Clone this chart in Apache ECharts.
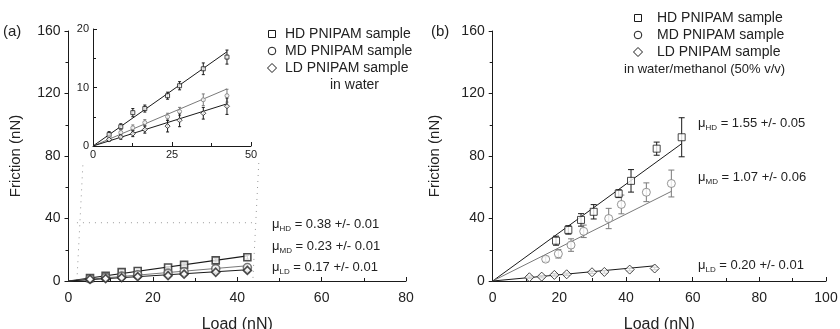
<!DOCTYPE html>
<html>
<head>
<meta charset="utf-8">
<script src="https://cdn.jsdelivr.net/npm/echarts@6/dist/echarts.min.js"></script>
<style>
  html, body { margin: 0; padding: 0; background: #fff; }
  #chart { width: 840px; height: 329px; }
</style>
</head>
<body>
<div id="chart"></div>
<script>
// ---- Panel (a): PNIPAM brushes in water (same data in main plot and inset) ----
const loadA   = [5.1, 8.8, 12.6, 16.4, 23.6, 27.4, 34.9, 42.4];
const hdA     = [1.95, 3.3, 5.7, 6.4, 8.6, 10.3, 13.2, 15.2];
const hdAErr  = [0.5, 0.5, 0.7, 0.6, 0.6, 0.7, 1.0, 1.2];
const mdA     = [1.4, 2.3, 3.1, 4.0, 5.0, 5.9, 7.9, 8.6];
const mdAErr  = [0.4, 0.5, 0.5, 0.5, 0.6, 0.7, 1.0, 1.1];
const ldA     = [1.1, 1.55, 2.1, 2.8, 3.4, 4.4, 5.6, 6.8];
const ldAErr  = [0.3, 0.4, 0.5, 0.6, 1.0, 1.1, 1.0, 1.4];
const slopeA  = [0.38, 0.23, 0.17];
const muTextA = ['0.38 +/- 0.01', '0.23 +/- 0.01', '0.17 +/- 0.01'];

// dotted guide linking the inset to the magnified region (load, friction)
const guideLeft  = [[3.4, 74], [2.0, 0.6]];
const guideRight = [[45.1, 75.5], [43.7, 0.6]];
const guideTop   = [[2.0, 37.3], [43.7, 37.3]];

// ---- Panel (b): in water/methanol (50% v/v) ----
const loadHD  = [19.0, 22.7, 26.5, 30.3, 37.8, 41.5, 49.2, 56.7];
const hdB     = [25.8, 32.7, 39.1, 44.3, 55.9, 64.1, 84.7, 92.0];
const hdBErr  = [2.9, 2.7, 4.0, 4.6, 2.5, 7.2, 4.2, 12.5];
const loadMD  = [15.9, 19.7, 23.5, 27.3, 34.8, 38.6, 46.1, 53.6];
const mdB     = [14.0, 17.4, 23.0, 31.8, 40.0, 49.0, 56.8, 62.4];
const mdBErr  = [1.5, 2.7, 4.0, 4.0, 6.5, 6.0, 6.0, 8.6];
const loadLD  = [11.0, 14.7, 18.5, 22.2, 29.8, 33.5, 41.1, 48.6];
const ldB     = [2.4, 2.8, 3.9, 4.3, 5.6, 5.8, 7.3, 8.0];
const ldBErr  = [0.8, 0.8, 0.8, 0.8, 0.8, 0.8, 0.8, 0.8];
const slopeB  = [1.55, 1.07, 0.20];
const muTextB = ['1.55 +/- 0.05', '1.07 +/- 0.06', '0.20 +/- 0.01'];

const sampleNames = ['HD PNIPAM sample', 'MD PNIPAM sample', 'LD PNIPAM sample'];
const subNames = ['HD', 'MD', 'LD'];

const BLACK = '#1a1a1a';
const GRAY = '#7a7a7a';
const FONT = '"Liberation Sans", Arial, Helvetica, sans-serif';
const colors = [BLACK, GRAY, BLACK];
const symbols = ['rect', 'circle', 'diamond'];

const zip = (xs, ys) => xs.map((x, i) => [x, ys[i]]);
const errData = (xs, ys, es) => xs.map((x, i) => [x, ys[i] - es[i], ys[i] + es[i]]);
const fitLine = (xs, k) => { const m = Math.max(...xs); return [[0, 0], [m, k * m]]; };

function errorBars(gi, data, color, cap) {
  return {
    type: 'custom', xAxisIndex: gi, yAxisIndex: gi, data: data, z: 3,
    renderItem: function (params, api) {
      const lo = api.coord([api.value(0), api.value(1)]);
      const hi = api.coord([api.value(0), api.value(2)]);
      const st = { stroke: color, lineWidth: 1 };
      return {
        type: 'group',
        children: [
          { type: 'line', shape: { x1: lo[0], y1: lo[1], x2: hi[0], y2: hi[1] }, style: st },
          { type: 'line', shape: { x1: lo[0] - cap, y1: lo[1], x2: lo[0] + cap, y2: lo[1] }, style: st },
          { type: 'line', shape: { x1: hi[0] - cap, y1: hi[1], x2: hi[0] + cap, y2: hi[1] }, style: st }
        ]
      };
    }
  };
}
function points(gi, data, sym, color, size, bw) {
  return {
    type: 'scatter', xAxisIndex: gi, yAxisIndex: gi, data: data, z: 4,
    symbol: sym, symbolSize: size,
    itemStyle: { color: '#fff', borderColor: color, borderWidth: bw }
  };
}
function fit(gi, data, color, w) {
  return {
    type: 'line', xAxisIndex: gi, yAxisIndex: gi, data: data, z: 2,
    showSymbol: false, symbol: 'none', silent: true,
    lineStyle: { color: color, width: w }
  };
}
function guide(data) {
  return {
    type: 'line', xAxisIndex: 0, yAxisIndex: 0, data: data, z: 1,
    showSymbol: false, symbol: 'none', silent: true,
    lineStyle: { color: '#9a9a9a', width: 1, type: [1, 5] }
  };
}

function axisX(gi, max, interval, fs, name, margin) {
  return {
    gridIndex: gi, type: 'value', min: 0, max: max, interval: interval,
    axisLine: { lineStyle: { color: BLACK, width: 1 } },
    axisTick: { inside: true, length: 4, lineStyle: { color: BLACK } },
    minorTick: { show: true, splitNumber: 2, length: 3, lineStyle: { color: BLACK } },
    splitLine: { show: false },
    axisLabel: { fontSize: fs, color: '#222', fontFamily: FONT, margin: margin },
    name: name, nameLocation: 'middle', nameGap: 36,
    nameTextStyle: { fontSize: 16, color: '#222', fontFamily: FONT }
  };
}
function axisY(gi, max, interval, fs, name, gap, inside, margin) {
  return {
    gridIndex: gi, type: 'value', min: 0, max: max, interval: interval,
    axisLine: { lineStyle: { color: BLACK, width: 1 } },
    axisTick: { inside: inside, length: 4, lineStyle: { color: BLACK } },
    minorTick: { show: true, splitNumber: 2, length: 3, lineStyle: { color: BLACK } },
    splitLine: { show: false },
    axisLabel: { fontSize: fs, color: '#222', fontFamily: FONT, margin: margin },
    name: name, nameLocation: 'middle', nameGap: gap,
    nameTextStyle: { fontSize: 15, color: '#222', fontFamily: FONT }
  };
}

const series = [
  // panel (a) main
  guide(guideLeft), guide(guideRight), guide(guideTop),
  fit(0, fitLine(loadA, slopeA[0]), colors[0], 1.2),
  fit(0, fitLine(loadA, slopeA[1]), colors[1], 1.2),
  fit(0, fitLine(loadA, slopeA[2]), colors[2], 1.2),
  errorBars(0, errData(loadA, hdA, hdAErr), colors[0], 2),
  errorBars(0, errData(loadA, mdA, mdAErr), colors[1], 2),
  errorBars(0, errData(loadA, ldA, ldAErr), colors[2], 2),
  points(0, zip(loadA, hdA), symbols[0], '#222', 7, 1.6),
  points(0, zip(loadA, mdA), symbols[1], '#555', 8, 1.6),
  points(0, zip(loadA, ldA), symbols[2], '#222', [8, 8], 1.6),
  // panel (a) inset
  fit(1, fitLine(loadA, slopeA[0]), colors[0], 1),
  fit(1, fitLine(loadA, slopeA[1]), colors[1], 1),
  fit(1, fitLine(loadA, slopeA[2]), colors[2], 1),
  errorBars(1, errData(loadA, hdA, hdAErr), colors[0], 1.5),
  errorBars(1, errData(loadA, mdA, mdAErr), colors[1], 1.5),
  errorBars(1, errData(loadA, ldA, ldAErr), colors[2], 1.5),
  points(1, zip(loadA, hdA), symbols[0], colors[0], 4, 1),
  points(1, zip(loadA, mdA), symbols[1], colors[1], 4, 1),
  points(1, zip(loadA, ldA), symbols[2], colors[2], [5, 5], 1),
  // panel (b)
  fit(2, fitLine(loadHD, slopeB[0]), colors[0], 1),
  fit(2, fitLine(loadMD, slopeB[1]), colors[1], 1),
  fit(2, fitLine(loadLD, slopeB[2]), colors[2], 1),
  errorBars(2, errData(loadHD, hdB, hdBErr), colors[0], 3),
  errorBars(2, errData(loadMD, mdB, mdBErr), colors[1], 3),
  errorBars(2, errData(loadLD, ldB, ldBErr), colors[2], 3),
  points(2, zip(loadHD, hdB), symbols[0], colors[0], 7, 1),
  points(2, zip(loadMD, mdB), symbols[1], colors[1], 8, 1),
  points(2, zip(loadLD, ldB), symbols[2], colors[2], [9, 9], 1)
];

// legend symbols and texts, panel labels and friction coefficients
const graphic = [];
function legendSymbol(sym, cx, cy) {
  const st = { fill: '#fff', stroke: BLACK, lineWidth: 1 };
  if (sym === 'rect') return { type: 'rect', shape: { x: cx - 3.5, y: cy - 3.5, width: 7, height: 7 }, style: st };
  if (sym === 'circle') return { type: 'circle', shape: { cx: cx, cy: cy, r: 3.8 }, style: st };
  return { type: 'polygon', shape: { points: [[cx, cy - 4.5], [cx + 4.5, cy], [cx, cy + 4.5], [cx - 4.5, cy]] }, style: st };
}
function txt(x, y, text, size, align) {
  return { type: 'text', x: x, y: y, style: { text: text, fontSize: size, fontFamily: FONT, fill: '#222', align: align || 'left', verticalAlign: 'middle' } };
}
function muLabel(x, y, sub, val) {
  return {
    type: 'text', x: x, y: y,
    style: {
      text: '{m|μ}{s|' + sub + '}{m| = ' + val + '}',
      verticalAlign: 'middle', fill: '#222', fontFamily: FONT,
      rich: {
        m: { fontSize: 13, fontFamily: FONT, fill: '#222', lineHeight: 18, verticalAlign: 'middle' },
        s: { fontSize: 8, fontFamily: FONT, fill: '#222', lineHeight: 18, verticalAlign: 'bottom' }
      }
    }
  };
}

const legAY = [34, 51, 68];
const legBY = [18, 35, 52];
for (let i = 0; i < 3; i++) {
  graphic.push(legendSymbol(symbols[i], 272, legAY[i]));
  graphic.push(txt(285, legAY[i], sampleNames[i], 14));
  graphic.push(legendSymbol(symbols[i], 638, legBY[i]));
  graphic.push(txt(657, legBY[i], sampleNames[i], 14));
}
graphic.push(txt(330, 85, 'in water', 14));
graphic.push(txt(624, 69, 'in water/methanol (50% v/v)', 13));
graphic.push(txt(3, 32, '(a)', 15));
graphic.push(txt(431, 32, '(b)', 15));

const muAY = [224, 246, 267];
const muBY = [123, 177, 265];
for (let i = 0; i < 3; i++) {
  graphic.push(muLabel(272, muAY[i], subNames[i], muTextA[i]));
  graphic.push(muLabel(698, muBY[i], subNames[i], muTextB[i]));
}

const chart = echarts.init(document.getElementById('chart'), null, { renderer: 'canvas' });
chart.setOption({
  backgroundColor: '#fff',
  animation: false,
  textStyle: { fontFamily: FONT },
  grid: [
    { left: 68.5, top: 31, width: 337.5, height: 250, containLabel: false, outerBoundsMode: 'none' },
    { left: 93, top: 29, width: 158, height: 117, containLabel: false, outerBoundsMode: 'none' },
    { left: 492.7, top: 31, width: 333.3, height: 250, containLabel: false, outerBoundsMode: 'none' }
  ],
  xAxis: [
    axisX(0, 80, 20, 14, 'Load (nN)', 10),
    Object.assign(axisX(1, 50, 25, 11, '', 3), { name: '' }),
    axisX(2, 100, 20, 14, 'Load (nN)', 10)
  ],
  yAxis: [
    axisY(0, 160, 40, 14, 'Friction (nN)', 45, false, 8),
    axisY(1, 20, 10, 11, '', 0, true, 4),
    axisY(2, 160, 40, 14, 'Friction (nN)', 50, false, 8)
  ],
  series: series,
  graphic: graphic
});
</script>
</body>
</html>
